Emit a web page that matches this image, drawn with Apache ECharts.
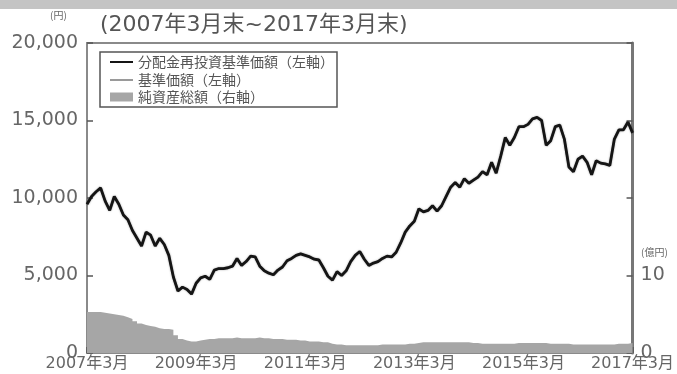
<!DOCTYPE html>
<html>
<head>
<meta charset="utf-8">
<script src="https://cdn.jsdelivr.net/npm/echarts@6/dist/echarts.min.js"></script>
<style>
  html, body { margin: 0; padding: 0; background: #fff; }
  #chart { width: 677px; height: 374px; }
</style>
</head>
<body>
<div id="chart"></div>
<script>
// Monthly points, March 2007 through March 2017
const startYear = 2007;
const startMonth = 3;
const monthCount = 121;
const months = [];
for (let i = 0; i < monthCount; i++) {
  const total = (startMonth - 1) + i;
  months.push((startYear + Math.floor(total / 12)) + '年' + (total % 12 + 1) + '月');
}

// 分配金再投資基準価額 (円)
const reinvestedNav = [
  9600, 10100, 10400, 10650, 9800, 9200, 10100, 9600, 8900, 8600,
  7900, 7400, 6900, 7800, 7600, 6900, 7400, 7000, 6300, 4900,
  4000, 4250, 4100, 3800, 4500, 4850, 4950, 4750, 5350, 5450,
  5450, 5500, 5600, 6100, 5650, 5900, 6250, 6200, 5600, 5300,
  5150, 5050, 5350, 5550, 5950, 6100, 6300, 6400, 6300, 6200,
  6050, 6000, 5500, 4950, 4700, 5250, 5000, 5300, 5900, 6300,
  6550, 6050, 5650, 5800, 5900, 6100, 6250, 6200, 6500, 7100,
  7800, 8200, 8500, 9300, 9100, 9200, 9500, 9150, 9500, 10100,
  10700, 11000, 10700, 11250, 10950, 11150, 11350, 11700, 11500, 12300,
  11600, 12700, 13900, 13400, 13900, 14600, 14600, 14750, 15100, 15200,
  15000, 13400, 13700, 14600, 14700, 13800, 12000, 11700, 12500, 12700,
  12300, 11500, 12400, 12250, 12200, 12100, 13800, 14400, 14400, 14900,
  14200
];

// 基準価額 (円) — no distributions over the period, so it tracks the reinvested value
const nav = reinvestedNav.slice();

// 純資産総額 (億円)
const netAssets = [
  5.3, 5.3, 5.3, 5.2, 5.1, 5.0, 4.9, 4.8, 4.6, 4.4,
  4.1, 3.8, 3.6, 3.5, 3.4, 3.2, 3.1, 3.1, 3.0, 2.3,
  1.8, 1.6, 1.5, 1.5, 1.6, 1.7, 1.8, 1.8, 1.9, 1.9,
  1.9, 1.9, 2.0, 1.9, 1.9, 1.9, 1.9, 2.0, 1.9, 1.9,
  1.8, 1.8, 1.8, 1.7, 1.7, 1.7, 1.6, 1.6, 1.5, 1.5,
  1.5, 1.4, 1.4, 1.2, 1.1, 1.1, 1.0, 1.0, 1.0, 1.0,
  1.0, 1.0, 1.0, 1.0, 1.1, 1.1, 1.1, 1.1, 1.1, 1.1,
  1.2, 1.2, 1.3, 1.4, 1.4, 1.4, 1.4, 1.4, 1.4, 1.4,
  1.4, 1.4, 1.4, 1.4, 1.3, 1.3, 1.2, 1.2, 1.2, 1.2,
  1.2, 1.2, 1.2, 1.2, 1.3, 1.3, 1.3, 1.3, 1.3, 1.3,
  1.3, 1.2, 1.2, 1.2, 1.2, 1.2, 1.1, 1.1, 1.1, 1.1,
  1.1, 1.1, 1.1, 1.1, 1.1, 1.1, 1.2, 1.2, 1.2, 1.3,
  1.3
];

// Axis ranges and labels
const leftMin = 0, leftMax = 20000, leftStep = 5000;
const rightMin = 0, rightMax = 40, rightStep = 10;
const rightShownLabels = [0, 10];
const seriesNames = ['分配金再投資基準価額（左軸）', '基準価額（左軸）', '純資産総額（右軸）'];
const periodText = '(2007年3月末~2017年3月末)';
const leftUnit = '(円)';
const rightUnit = '(億円)';

const font = '"DejaVu Sans", "Noto Sans CJK JP", sans-serif';
const cjkFont = '"Noto Sans CJK JP", "DejaVu Sans", sans-serif';
const axisGray = '#8a8a8a';
const textGray = '#666666';

const navColor = '#151515';
const baseColor = '#9a9a9a';
const assetColor = '#a6a6a6';

// Boxed key in the upper-left corner of the plot
const keyLeft = 100, keyTop = 52, keyWidth = 237, keyHeight = 55;
const keyRows = [62, 80, 97];
const keyGraphics = [
  { type: 'rect', shape: { x: keyLeft, y: keyTop, width: keyWidth, height: keyHeight },
    style: { fill: '#fff', stroke: '#555', lineWidth: 1.5 }, z: 10 },
  { type: 'line', shape: { x1: 110, y1: keyRows[0], x2: 133, y2: keyRows[0] },
    style: { stroke: navColor, lineWidth: 2 }, z: 11 },
  { type: 'line', shape: { x1: 110, y1: keyRows[1], x2: 133, y2: keyRows[1] },
    style: { stroke: baseColor, lineWidth: 2 }, z: 11 },
  { type: 'rect', shape: { x: 110, y: keyRows[2] - 4.5, width: 23, height: 9 },
    style: { fill: assetColor }, z: 11 }
];
seriesNames.forEach((name, i) => {
  keyGraphics.push({
    type: 'text', x: 138, y: keyRows[i], z: 11,
    style: { text: name, font: '14px ' + cjkFont, fill: '#555', verticalAlign: 'middle' }
  });
});

const chart = echarts.init(document.getElementById('chart'), null, { renderer: 'canvas' });

chart.setOption({
  animation: false,
  backgroundColor: '#ffffff',
  grid: {
    left: 87, right: 41, top: 43, bottom: 21,
    show: true, borderColor: axisGray, borderWidth: 2, backgroundColor: 'transparent'
  },
  graphic: [
    { type: 'rect', left: 0, top: 0, shape: { width: 677, height: 9 }, style: { fill: '#c4c4c4' }, silent: true },
    { type: 'text', left: 50, top: 10, style: { text: leftUnit, font: '10px ' + cjkFont, fill: textGray } },
    { type: 'text', left: 100, top: 14, style: { text: periodText, font: '22px ' + font, fill: '#555' } },
    { type: 'text', left: 641, top: 247, style: { text: rightUnit, font: '10px ' + cjkFont, fill: textGray } }
  ].concat(keyGraphics),
  xAxis: {
    type: 'category',
    data: months,
    boundaryGap: false,
    axisLine: { show: true, lineStyle: { color: axisGray, width: 2 } },
    axisTick: { show: true, inside: true, interval: 23, length: 6, lineStyle: { color: '#555', width: 1.5 } },
    axisLabel: {
      interval: 23, margin: 3, color: textGray, fontSize: 16, fontFamily: font,
      showMinLabel: true, showMaxLabel: true
    },
    splitLine: { show: false }
  },
  yAxis: [
    {
      type: 'value', min: leftMin, max: leftMax, interval: leftStep,
      axisLine: { show: true, lineStyle: { color: axisGray, width: 2 } },
      axisTick: { show: true, inside: true, length: 6, lineStyle: { color: '#555', width: 1.5 } },
      axisLabel: {
        margin: 9, color: textGray, fontSize: 19, fontFamily: font,
        formatter: v => v.toLocaleString('en-US')
      },
      splitLine: { show: false }
    },
    {
      type: 'value', position: 'right', min: rightMin, max: rightMax, interval: rightStep,
      axisLine: { show: true, lineStyle: { color: '#777', width: 3 } },
      axisTick: { show: true, inside: true, length: 6, lineStyle: { color: '#555', width: 1.5 } },
      axisLabel: {
        margin: 8, color: textGray, fontSize: 19, fontFamily: font,
        formatter: v => rightShownLabels.includes(v) ? String(v) : ''
      },
      splitLine: { show: false }
    }
  ],
  series: [
    {
      name: seriesNames[2],
      type: 'line',
      yAxisIndex: 1,
      data: netAssets,
      step: 'end',
      symbol: 'none',
      lineStyle: { width: 0, color: assetColor },
      itemStyle: { color: assetColor },
      areaStyle: { color: assetColor, opacity: 1 },
      z: 1
    },
    {
      name: seriesNames[1],
      type: 'line',
      data: nav,
      symbol: 'none',
      lineStyle: { width: 2, color: baseColor },
      itemStyle: { color: baseColor },
      z: 2
    },
    {
      name: seriesNames[0],
      type: 'line',
      data: reinvestedNav,
      symbol: 'none',
      lineStyle: { width: 2.8, color: navColor, shadowColor: 'rgba(0,0,0,0.35)', shadowBlur: 2 },
      itemStyle: { color: navColor },
      z: 3
    }
  ]
});
</script>
</body>
</html>
